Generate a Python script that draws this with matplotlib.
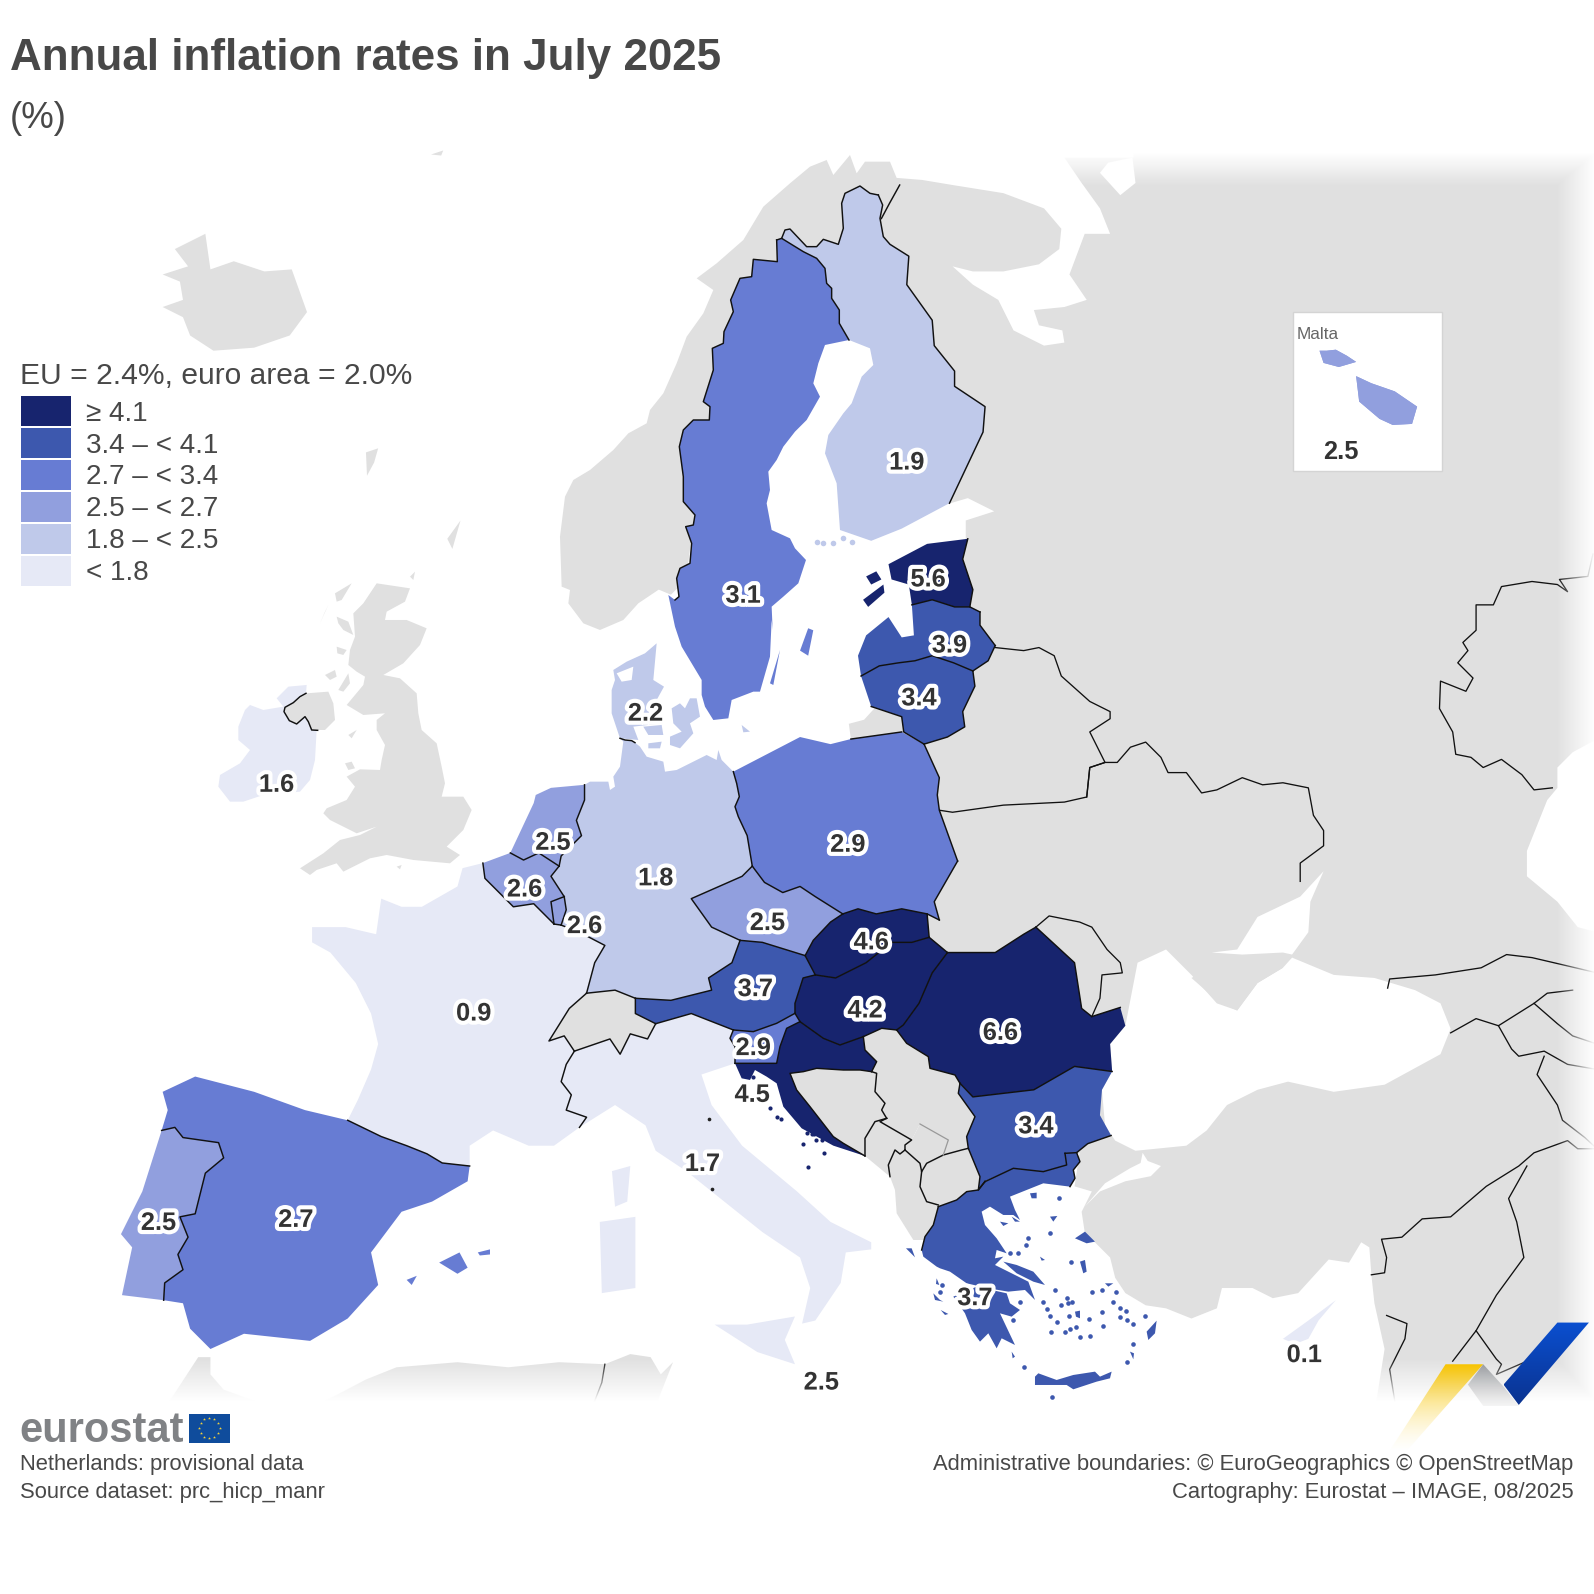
import numpy as np
import matplotlib
matplotlib.use("Agg")
import matplotlib.pyplot as plt
import matplotlib.patheffects as pe
from matplotlib.patches import Polygon, Rectangle

plt.rcParams["font.family"] = ["Liberation Sans", "DejaVu Sans"]

# values per country
countries = ["SE", "FI", "EE", "LV", "LT", "DK", "IE", "NL", "BE", "LU", "DE", "PL", "CZ", "SK", "AT",
             "HU", "RO", "SI", "HR", "FR", "IT", "BG", "EL", "ES", "PT", "CY", "MT"]
values = [3.1, 1.9, 5.6, 3.9, 3.4, 2.2, 1.6, 2.5, 2.6, 2.6, 1.8, 2.9, 2.5, 4.6, 3.7,
          4.2, 6.6, 2.9, 4.5, 0.9, 1.7, 3.4, 3.7, 2.7, 2.5, 0.1, 2.5]
label_x = [731, 892, 913, 934, 904, 635, 272, 544, 516, 575, 645, 834, 755, 857, 743,
           851, 984, 741, 740, 466, 691, 1019, 959, 291, 156, 1283, 808]
label_y = [584, 453, 568, 633, 685, 700, 770, 827, 873, 909, 862, 829, 906, 925, 971,
           992, 1014, 1029, 1075, 995, 1143, 1106, 1275, 1198, 1201, 1331, 1358]

breaks = [1.8, 2.5, 2.7, 3.4, 4.1]
class_colors = ["#e6e9f6", "#bfc9ea", "#919fde", "#677cd3", "#3d58ae", "#17246e"]
legend_labels = ["\u2265 4.1", "3.4 \u2013 < 4.1", "2.7 \u2013 < 3.4", "2.5 \u2013 < 2.7", "1.8 \u2013 < 2.5", "< 1.8"]

GREY = "#e0e0e0"
TEXT = "#484848"
TY = 2  # text sits a little lower than va=center gives


def crop(x0, y0):
    # outlines traced on 3x crops of the picture, back to picture units
    return lambda pts: [((x0 + x / 3) / 1.0166, (y0 + y / 3) / 1.0166) for x, y in pts]


z_gr = crop(900, 1150)
z_uk = crop(200, 570)
z_sc = crop(550, 130)
z_dk = crop(590, 620)
z_ba = crop(700, 1000)

# shared borders
se_no = z_sc([(680, 330), (682, 395), (610, 388), (605, 440), (570, 445), (542, 510), (550, 545), (522, 605), (520, 640),
              (487, 655), (490, 720), (460, 815), (480, 830), (478, 870), (430, 870), (400, 900), (388, 950), (400, 1040),
              (400, 1115), (435, 1155), (430, 1185), (407, 1190), (425, 1240), (420, 1300), (390, 1315), (380, 1345),
              (387, 1400), (375, 1410)])
se_fi = z_sc([(680, 330), (695, 325), (760, 365), (800, 385), (825, 415), (830, 460), (845, 475), (845, 505), (868, 540),
              (868, 580), (897, 630)])
fi_no = z_sc([(695, 325), (705, 300), (720, 297), (770, 350), (800, 350), (820, 328), (865, 343), (880, 295), (875, 220),
              (885, 190), (930, 168), (960, 190), (985, 195)])
no_ru = [(867, 215), (875, 200), (885, 182)]
fi_ru = z_sc([(985, 195), (998, 225), (990, 265), (1000, 320), (1020, 343)]) + [
    (894, 252), (892, 280), (917, 315), (919, 340), (939, 365), (939, 380), (969, 400), (967, 425), (934, 495)]
ee_lv = [(897, 595), (917, 590), (939, 597), (954, 597)]
ee_ru = [(952, 530), (947, 550), (957, 580), (954, 597), (964, 602)]
lv_ru = [(964, 602), (964, 615), (979, 635)]
lv_by = [(979, 635), (972, 650), (957, 660)]
lv_lt = [(847, 665), (865, 655), (884, 652), (900, 650), (917, 645), (938, 652), (957, 660)]
lt_by = [(957, 660), (959, 675), (947, 700), (949, 715), (932, 725), (909, 732)]
lt_ru = [(909, 732), (889, 720), (887, 705), (857, 695)]
pl_ru = [(887, 720), (837, 727)]
pl_lt = [(887, 720), (909, 732)]
pl_by = [(909, 732), (924, 765), (922, 782), (924, 797), (942, 847)]
pl_ua = [(942, 847), (919, 887), (924, 905)]
pl_sk = [(924, 905), (912, 899), (887, 894), (862, 899), (844, 894), (829, 899)]
pl_cz = [(829, 899), (802, 882), (787, 872), (770, 878), (752, 868), (740, 852)]
de_pl = z_dk([(430, 455), (440, 490), (448, 530), (435, 560), (445, 590)]) + [(735, 822), (740, 852)]
de_cz = [(740, 852), (730, 862), (680, 884), (700, 912), (728, 925)]
de_at = [(728, 925), (720, 947), (697, 962), (700, 974), (660, 984), (625, 982)]
de_ch = [(625, 982), (605, 974), (577, 977)]
de_fr = [(577, 977), (585, 947), (595, 930), (570, 917), (552, 910)]
de_lu = [(552, 910), (557, 895), (555, 882)]
de_be = [(555, 882), (542, 862), (550, 852)]
de_nl = [(550, 852), (552, 842), (572, 822), (567, 807), (575, 787), (575, 772)]
de_dk = z_dk([(90, 355), (105, 360), (125, 362), (135, 368)])
be_nl = [(550, 852), (530, 839), (515, 846), (502, 839)]
be_fr = [(475, 849), (477, 864), (495, 882), (505, 892), (525, 889), (545, 909)]
be_lu = [(555, 882), (542, 887), (545, 909)]
lu_fr = [(545, 909), (552, 910)]
fr_ch = [(577, 977), (560, 992), (540, 1024), (555, 1019), (565, 1034)]
fr_it = [(565, 1034), (557, 1047), (552, 1064), (562, 1077), (557, 1092), (577, 1099), (570, 1109)]
fr_es = [(342, 1102), (375, 1118), (400, 1127), (420, 1135), (435, 1144), (462, 1147)]
ch_it = [(565, 1034), (600, 1022), (610, 1037), (620, 1017), (637, 1022), (645, 1007)]
ch_at = [(625, 982), (625, 997), (645, 1007)]
at_si = z_ba([(100, 90), (160, 95), (230, 70), (285, 40)])
at_it = [(645, 1007), (680, 997), at_si[0]]
at_hu = [at_si[-1], (782, 987), (790, 962), (802, 959)]
at_sk = [(802, 959), (792, 940)]
at_cz = [(792, 940), (750, 927), (728, 925)]
cz_sk = [(829, 899), (817, 907), (800, 925), (792, 940)]
sk_hu = [(802, 959), (822, 962), (852, 947), (877, 927), (897, 927), (914, 922)]
sk_ua = [(914, 922), (912, 899)]
hu_ua = [(914, 922), (932, 937)]
hu_ro = [(932, 937), (917, 957), (904, 987)] + z_ba([(610, 75), (590, 90)])
hu_rs = z_ba([(590, 90), (545, 85), (490, 110)])
hu_hr = z_ba([(490, 110), (420, 135), (370, 115), (300, 65)])
hu_si = z_ba([(300, 65), (285, 40)])
si_it = z_ba([(100, 90), (90, 115), (105, 140), (105, 190)])
si_hr = z_ba([(105, 190), (230, 190), (240, 140), (260, 85), (300, 65)])
hr_rs = z_ba([(490, 110), (495, 150), (530, 185), (515, 215)])
hr_ba = z_ba([(515, 215), (480, 210), (430, 210), (350, 205), (310, 215), (270, 220), (290, 270), (330, 320), (400, 410),
              (430, 430), (495, 468)])
ba_rs = z_ba([(515, 215), (530, 220), (525, 275), (555, 310), (545, 330), (560, 355)])
ba_me = z_ba([(560, 355), (525, 365), (495, 415), (495, 468)])
me_rs = z_ba([(560, 355), (540, 365), (635, 420), (615, 435), (615, 450)])
me_al = z_ba([(570, 530), (565, 495), (585, 450), (600, 462), (615, 450)])
al_mk = z_ba([(615, 450), (660, 490), (665, 515), (660, 560), (680, 605), (715, 615)])
mk_rs = z_ba([(665, 515), (680, 490), (730, 465), (785, 450), (805, 445)])
ro_ua = [(932, 937), (959, 937), (979, 937), (1007, 919), (1019, 912)]
ro_md = [(1019, 912), (1057, 947), (1064, 992), (1074, 1000)]
ro_ua2 = [(1074, 1000), (1102, 991)]
ro_rs = z_ba([(780, 250), (765, 225), (690, 205), (685, 170), (620, 130), (590, 90)])
ro_bg = [(1094, 1054), (1057, 1049), (1017, 1072), (957, 1079), ro_rs[0]]
bg_rs = z_ba([(780, 250), (775, 280), (825, 350), (800, 410), (805, 445)])
bg_mk = z_ba([(805, 445), (840, 530), (835, 570)]) + [(969, 1162)]
bg_el = z_gr([(255, 95), (340, 55), (430, 65), (500, 45), (495, 10)])
bg_tr = z_gr([(495, 10), (530, 8)]) + [(1070, 1125), (1093, 1117)]
el_tr = z_gr([(530, 8), (540, 35), (520, 60), (525, 85), (510, 110)])
el_mk = z_gr([(255, 95), (235, 120), (200, 125), (170, 150), (115, 170)])
el_al = z_gr([(115, 170), (100, 225), (75, 260), (65, 300)])
es_pt = [(159, 1112), (172, 1109), (180, 1119), (215, 1124), (220, 1139), (202, 1154), (192, 1194), (177, 1197),
         (185, 1217), (175, 1234), (180, 1249), (162, 1262), (161, 1279)]
ie_uk = z_uk([(318, 370), (300, 380), (280, 398), (255, 412), (252, 425), (268, 452), (290, 462), (315, 440), (325, 455),
              (335, 480), (353, 481)])

# coasts
se_coast = z_sc([(355, 1395), (375, 1490)]) + z_dk([(275, 80), (335, 180), (335, 225), (345, 260), (370, 300), (415, 295),
                                                    (425, 240), (490, 215), (510, 215), (540, 110), (545, 0)]) + z_sc([
    (668, 1500), (665, 1430), (700, 1400), (745, 1360), (768, 1290), (735, 1255), (720, 1225), (665, 1200), (650, 1120),
    (660, 1080), (655, 1025), (680, 990), (700, 950), (735, 905), (770, 870), (810, 800), (790, 760), (805, 700), (825, 645)])
fi_coast = [(934, 495), (887, 520), (857, 532)] + z_sc([(870, 1200), (860, 1060), (825, 970), (835, 915), (880, 850), (905, 820),
                                                        (935, 740), (970, 705), (960, 655), (897, 630)])
ee_coast = [(897, 595), (894, 575), (877, 570), (874, 555), (912, 535), (952, 530)]
lv_coast = [(847, 665), (844, 645), (852, 625), (874, 607), (887, 627), (899, 625), (897, 595)]
lt_coast = [(857, 695), (847, 665)]
pl_coast = [(837, 727), (817, 732), (787, 725), de_pl[0]]
de_coast = [(575, 772)] + z_dk([(0, 485), (55, 485), (60, 510), (75, 500), (70, 470), (90, 440), (100, 365), (90, 355)]) + de_dk[1:] + z_dk([
    (150, 380), (170, 410), (220, 425), (225, 455), (260, 450), (310, 425), (350, 405), (380, 420), (385, 390), (395, 420), (430, 455)])
nl_coast = [(502, 839), (525, 790), (527, 782), (542, 775), (575, 772)]
be_coast = [(475, 849), (502, 839)]
fr_coast = [(570, 1109), (545, 1127), (520, 1127), (485, 1112), (462, 1127), (462, 1147)]
fr_atl = [(342, 1102), (352, 1082), (365, 1052), (372, 1027), (365, 997), (350, 967), (325, 937), (307, 927), (307, 912),
          (340, 912), (370, 919), (375, 884), (395, 892), (415, 892), (450, 872), (455, 854), (475, 849)]
es_north = [(159, 1112), (165, 1092), (160, 1074), (192, 1059), (250, 1074), (300, 1092), (342, 1102)]
es_med = [(462, 1147), (460, 1162), (425, 1182), (395, 1192), (365, 1232), (372, 1264), (342, 1297), (305, 1319),
          (240, 1312), (207, 1327), (187, 1307), (180, 1282), (161, 1279)]
pt_coast = [(161, 1279), (120, 1274), (130, 1227), (119, 1214), (140, 1172), (159, 1112)]
it_coast = [si_it[-1], (690, 1057), (700, 1087), (730, 1127), (784, 1172), (817, 1202), (857, 1222), (857, 1229),
            (832, 1232), (827, 1262), (802, 1299), (789, 1302), (797, 1267), (787, 1237), (750, 1212), (700, 1172),
            (675, 1152), (645, 1132), (635, 1107), (605, 1087), (570, 1109)]
ro_coast = [(1102, 991), (1107, 1009), (1092, 1027), (1094, 1054)]
bg_coast = [(1094, 1054), (1084, 1072), (1082, 1097), (1093, 1117)]
el_coast = z_gr([(510, 110), (430, 100), (380, 120), (330, 140), (345, 180), (360, 210), (340, 195), (310, 195), (270, 170),
                 (245, 185), (255, 225), (290, 265), (320, 310), (290, 300), (285, 325), (310, 320), (285, 345), (345, 375),
                 (385, 395), (405, 450), (375, 420), (325, 425), (265, 415), (200, 400), (150, 365), (120, 355), (110, 350),
                 (70, 320), (65, 300)])
hr_coast = z_ba([(495, 468), (400, 437), (305, 385), (250, 320), (230, 250), (200, 230), (165, 210), (150, 240), (125, 235), (105, 190)])

# inner anchors keep the east land under the countries painted over it
east_land = z_sc([(150, 1500), (100, 1480), (55, 1420), (60, 1380), (35, 1370), (30, 1220), (45, 1100), (70, 1050), (120, 1020),
                  (190, 960), (235, 910), (290, 880), (300, 840), (340, 790), (380, 700), (410, 620), (460, 550), (490, 480),
                  (440, 445), (500, 400), (580, 330), (640, 230), (720, 160), (780, 110), (830, 90), (850, 135), (900, 75),
                  (920, 130), (945, 95), (1020, 95)]) + [
    (882, 175), (907, 177), (937, 182), (987, 190), (1027, 205), (1044, 225), (1042, 245), (1022, 260),
    (987, 267), (957, 267), (937, 262), (957, 280), (982, 295), (997, 325), (1027, 340), (1047, 337),
    (1045, 325), (1022, 320), (1017, 305), (1047, 302), (1069, 295), (1052, 270), (1067, 230), (1092, 230),
    (1082, 205), (1064, 180), (1047, 155), (1115, 155), (1115, 150), (1568, 150), (1568, 1378), (1354, 1378),
    (1362, 1327), (1352, 1282), (1349, 1254), (1347, 1227), (1339, 1222), (1327, 1242), (1307, 1239),
    (1277, 1272), (1252, 1277), (1232, 1267), (1202, 1267), (1197, 1287), (1172, 1297), (1147, 1287),
    (1127, 1284), (1107, 1272), (1097, 1257), (1092, 1237), (1067, 1212), (1064, 1192), (1074, 1172),
    (1057, 1167), (1062, 1134), (1049, 1144), (1000, 1000), (910, 930), (915, 800), (912, 740), (887, 720),
    (837, 727), (835, 712), (850, 708), (860, 697), (887, 705), (920, 660), (945, 620), (935, 570), (950, 530),
    (950, 512), (978, 503), (952, 490), (935, 495), (880, 440), (860, 300), (790, 290), (720, 350), (690, 450),
    (675, 570), (660, 585), (648, 580)] + z_sc([(265, 1420), (220, 1470)])
white_bay = [(1082, 170), (1102, 192), (1117, 180), (1114, 155), (1090, 160)]
black_sea = [(1107, 1009), (1119, 947), (1147, 934), (1172, 959), (1197, 987), (1217, 994), (1237, 967), (1262, 952),
             (1271, 942), (1312, 959), (1352, 962), (1392, 974), (1417, 987), (1427, 1012), (1417, 1037), (1362, 1067),
             (1312, 1074), (1267, 1064), (1237, 1072), (1207, 1087), (1187, 1112), (1167, 1127), (1117, 1132),
             (1097, 1122), (1087, 1107), (1084, 1072), (1094, 1054), (1092, 1027)]
azov = [(1302, 857), (1279, 882), (1237, 902), (1217, 934), (1192, 937), (1222, 939), (1262, 937), (1271, 939),
        (1287, 917), (1289, 887)]
marmara = [(1124, 1134), (1129, 1142), (1142, 1147), (1132, 1157), (1107, 1162), (1082, 1172), (1067, 1187), (1087, 1164),
           (1112, 1149), (1122, 1144)]
caspian = [(1571, 727), (1547, 740), (1532, 755), (1532, 775), (1522, 787), (1502, 837), (1502, 862), (1532, 887),
           (1552, 912), (1571, 917)]
crimea = [(1172, 962), (1192, 952), (1217, 952), (1262, 942), (1262, 952), (1237, 967), (1217, 994), (1197, 984)]
iceland = [(172, 245), (202, 230), (207, 265), (230, 257), (260, 267), (287, 265), (302, 307), (285, 330), (250, 342),
           (210, 345), (187, 330), (180, 312), (160, 302), (180, 295), (177, 277), (160, 270), (185, 262)]
britain = z_uk([(530, 40), (630, 55), (615, 95), (560, 125), (555, 150), (620, 150), (680, 175), (660, 225), (610, 280), (550, 315),
                (600, 325), (650, 370), (655, 430), (665, 480), (710, 520), (725, 590), (735, 640), (725, 680), (790, 680),
                (815, 720), (790, 780), (740, 830), (780, 855), (750, 880), (640, 870), (560, 855), (510, 865), (430, 905),
                (410, 880), (350, 900), (330, 915), (300, 895), (370, 850), (420, 810), (480, 795), (530, 770), (470, 790),
                (390, 750), (370, 730), (380, 715), (440, 690), (465, 650), (440, 620), (480, 598), (540, 600), (545, 570),
                (555, 525), (530, 480), (530, 450), (555, 430), (490, 435), (440, 405), (490, 345), (495, 320), (470, 305),
                (445, 285), (450, 240), (465, 200), (460, 130), (490, 100)])
n_ireland = z_uk([(320, 370), (385, 365), (400, 400), (405, 450), (375, 480), (335, 480), (315, 440), (290, 462), (265, 450),
                  (250, 415), (280, 398)])
ireland = z_uk([(135, 420), (150, 405), (190, 420), (250, 410), (230, 385), (265, 350), (320, 345), (318, 370), (280, 398), (250, 415),
                (265, 450), (290, 462), (315, 440), (335, 480), (350, 480), (345, 570), (330, 630), (300, 665), (190, 675),
                (130, 695), (90, 695), (55, 650), (60, 615), (120, 580), (150, 540), (115, 510), (115, 470)])
small_grey = z_uk([(410, 140), (445, 155), (460, 195), (430, 180), (415, 160)]), \
    z_uk([(410, 230), (440, 240), (430, 255), (412, 250)]), z_uk([(375, 315), (405, 300), (410, 320), (390, 330)]), \
    z_uk([(385, 105), (360, 160), (375, 125)]), z_uk([(405, 70), (455, 40), (425, 90), (410, 95)]), \
    z_uk([(415, 360), (445, 310), (450, 340), (430, 365)]), z_uk([(445, 495), (470, 480), (455, 505)]), \
    z_uk([(435, 580), (455, 575), (465, 595), (445, 600)]), z_uk([(630, 20), (645, 5), (640, 30)]), \
    z_uk([(590, 890), (605, 885), (600, 898)]), \
    [(360, 445), (372, 441), (368, 455), (361, 468)], [(440, 530), (453, 512), (445, 540)], [(424, 152), (436, 148), (434, 153)]
morocco = [(167, 1378), (195, 1335), (207, 1335), (207, 1352), (220, 1367), (250, 1378)]
algeria = [(320, 1378), (360, 1357), (390, 1345), (450, 1340), (500, 1345), (550, 1340), (595, 1342), (620, 1332),
           (640, 1335), (650, 1352), (662, 1340), (647, 1378)]
bosnia = hr_ba + ba_me[::-1][1:] + ba_rs[::-1][1:]
serbia = hu_rs[::-1] + ro_rs[::-1][1:] + bg_rs[1:] + z_ba([(785, 450), (730, 465), (745, 420), (660, 372), (635, 420), (540, 365)]) + \
    ba_rs[::-1] + hr_rs[::-1][1:]
montenegro = ba_me + z_ba([(570, 530)]) + me_al[1:] + me_rs[::-1][1:]
kosovo = z_ba([(635, 420), (660, 372), (745, 420), (730, 465), (680, 490), (665, 515), (660, 490), (615, 450), (615, 435)])
macedonia = mk_rs + bg_mk[1:] + el_mk[1:] + z_ba([(680, 605), (660, 560)])
albania = me_al + al_mk[1:] + z_ba([(700, 680), (680, 720), (640, 720), (590, 640), (585, 570)])
switzerland = fr_ch + ch_it[1:] + ch_at[::-1][1:] + de_ch[1:]

# islands
corsica = [(602, 1152), (620, 1147), (617, 1182), (605, 1187)]
sardinia = [(590, 1202), (625, 1197), (625, 1267), (592, 1272)]
sicily = [(703, 1303), (735, 1303), (782, 1295), (772, 1318), (782, 1342), (745, 1330)]
mallorca = [(432, 1242), (452, 1232), (460, 1247), (450, 1253)]
menorca = [(470, 1232), (482, 1229), (482, 1234), (472, 1235)]
ibiza = [(400, 1259), (410, 1255), (405, 1264)]
gotland = [(787, 640), (795, 618), (800, 620), (795, 645)]
oland = z_dk([(570, 90), (540, 190), (550, 195)])
bornholm = z_dk([(455, 315), (480, 335), (460, 337)])
saaremaa = [(849, 590), (869, 575), (870, 583), (854, 597)]
hiiumaa = [(852, 567), (862, 562), (867, 570), (857, 575)]
jutland = z_dk([(200, 70), (190, 180), (222, 200), (200, 240), (215, 310), (130, 320), (145, 360), (90, 355), (65, 280), (65, 210),
                (75, 180), (70, 150), (110, 125), (165, 100)])
limfjord = z_dk([(80, 160), (130, 140), (125, 180), (95, 185)])
fyn = z_dk([(160, 320), (215, 315), (220, 345), (175, 345)])
zealand = z_dk([(245, 265), (270, 250), (285, 265), (300, 235), (320, 235), (330, 290), (300, 310), (310, 340), (270, 385), (240, 375),
                (240, 350), (275, 335), (250, 310)])
lolland = z_dk([(175, 370), (215, 365), (210, 385), (175, 385)])
peloponnese = z_gr([(160, 440), (230, 410), (320, 430), (330, 460), (360, 480), (335, 500), (300, 490), (345, 585), (305, 565),
                    (290, 595), (265, 550), (240, 575), (215, 540), (195, 490)])
crete = z_gr([(405, 680), (415, 670), (470, 690), (520, 675), (585, 665), (600, 680), (635, 665), (630, 685), (590, 695), (520, 718),
              (500, 705), (405, 705)])
euboea = z_gr([(310, 335), (350, 345), (400, 365), (435, 405), (400, 395), (350, 370)])
el_islands = [z_gr(p) for p in [
    [(390, 130), (410, 128), (410, 145), (395, 145)], [(450, 200), (472, 198), (460, 215)],
    [(525, 265), (555, 245), (585, 275), (560, 280)], [(540, 335), (555, 330), (560, 365), (550, 370)],
    [(615, 400), (640, 400), (625, 410)], [(770, 512), (765, 550), (745, 570), (740, 545)],
    [(100, 430), (120, 450), (130, 455), (105, 450)], [(122, 480), (145, 492), (135, 495)],
    [(18, 295), (35, 295), (45, 322)], [(110, 385), (118, 405), (108, 402)], [(335, 605), (345, 620), (338, 625)],
    [(420, 320), (435, 330), (425, 332)], [(300, 215), (325, 220), (310, 228)], [(335, 200), (360, 215), (345, 215)],
    [(525, 485), (540, 482), (540, 505), (528, 500)], [(690, 605), (702, 610), (700, 628)],
]]
aegean = z_gr([(385, 265), (378, 285), (355, 310), (330, 310), (450, 250), (512, 337), (465, 420), (500, 445), (428, 455), (440, 478),
               (482, 465), (505, 460), (515, 455), (450, 497), (470, 515), (508, 497), (568, 507), (528, 530), (510, 538),
               (495, 547), (452, 547), (540, 562), (570, 558), (610, 527), (605, 487), (640, 457), (575, 427), (605, 420), (648, 425),
               (660, 475), (678, 483), (660, 500), (680, 510), (698, 522), (735, 497), (698, 583), (682, 636), (372, 650), (455, 740),
               (125, 405), (120, 425), (338, 510), (360, 455), (478, 145)])
dalmatia = z_ba([(320, 400), (342, 403), (365, 420), (348, 420), (310, 433), (372, 460), (325, 500), (210, 325), (230, 350),
                 (242, 358), (160, 230), (335, 403)])
aland = z_sc([(800, 1235), (820, 1240), (850, 1240), (880, 1225), (905, 1235)])
enclaves = z_ba([(27, 357), (35, 568)])
malta_gozo = [(1298, 345), (1305, 345), (1314, 344), (1325, 350), (1334, 356), (1317, 361), (1302, 357)]
malta_main = [(1334, 370), (1349, 377), (1372, 385), (1394, 400), (1389, 417), (1370, 418), (1357, 412), (1337, 395)]

# east of the map
east_borders = [
    [(979, 637), (1007, 640), (1022, 637), (1037, 645), (1044, 665), (1072, 690), (1092, 700), (1092, 707), (1072, 720),
     (1087, 750), (1072, 755), (1069, 784)],
    [(924, 797), (937, 799), (987, 792), (1047, 789), (1069, 784), (1072, 755), (1087, 750), (1099, 750), (1112, 735), (1127, 730),
     (1142, 745), (1149, 760), (1167, 760), (1182, 780), (1197, 777), (1222, 765), (1242, 772), (1262, 770), (1287, 775),
     (1292, 802), (1302, 817), (1302, 832), (1279, 849), (1279, 867)],
    [(1019, 912), (1032, 901), (1062, 907), (1074, 912), (1089, 934), (1102, 947), (1104, 957), (1084, 959), (1082, 982), (1074, 1000)],
    [(1567, 545), (1562, 567), (1534, 570), (1542, 582), (1532, 575), (1507, 572), (1477, 577), (1469, 595), (1452, 595),
     (1452, 620), (1439, 632), (1444, 640), (1434, 652), (1449, 667), (1442, 680), (1417, 670), (1416, 697), (1429, 720),
     (1432, 742), (1447, 745), (1459, 755), (1477, 747), (1497, 762), (1509, 777), (1527, 775)],
    [(1365, 972), (1367, 963), (1412, 959), (1457, 952), (1482, 939), (1507, 942), (1537, 949), (1571, 957)],
    [(1427, 1016), (1452, 1002), (1474, 1009), (1509, 987), (1522, 977), (1547, 974)],
    [(1474, 1009), (1487, 1032), (1494, 1039), (1519, 1034), (1542, 1047), (1571, 1052)],
    [(1509, 987), (1532, 1007), (1547, 1019), (1571, 1027)],
    [(1519, 1039), (1512, 1057), (1532, 1087), (1537, 1102), (1559, 1119), (1571, 1130)],
    [(1349, 1254), (1362, 1252), (1364, 1237), (1359, 1219), (1379, 1217), (1399, 1199), (1427, 1197), (1462, 1167),
     (1494, 1147), (1509, 1134), (1542, 1122), (1552, 1130), (1571, 1130)],
    [(1502, 1147), (1484, 1179), (1492, 1202), (1499, 1237), (1472, 1274), (1452, 1309), (1429, 1339)],
    [(1452, 1309), (1472, 1337), (1477, 1342), (1472, 1352), (1502, 1339)],
    [(1364, 1294), (1384, 1302), (1382, 1317), (1367, 1347), (1372, 1378)],
    [(595, 1342), (592, 1360), (585, 1378)],
]
cyprus = [(1262, 1317), (1287, 1299), (1314, 1279), (1297, 1299), (1287, 1317), (1274, 1322)]

fill = dict(zip(countries, np.array(class_colors)[np.digitize(values, breaks)]))

shapes = {
    "SE": [se_no + se_coast + se_fi[::-1], oland, gotland],
    "FI": [fi_no + fi_ru[1:] + fi_coast[1:] + se_fi[::-1][1:-1]],
    "EE": [ee_coast + ee_ru[:-1] + ee_lv[::-1], saaremaa, hiiumaa],
    "LV": [lv_coast + ee_lv + ee_ru[-2:] + lv_ru[1:] + lv_by[1:] + lv_lt[::-1][1:]],
    "LT": [lt_coast + lv_lt[1:] + lt_by[1:] + lt_ru[1:]],
    "DK": [jutland, zealand, fyn, lolland, bornholm],
    "IE": [ireland],
    "NL": [nl_coast + de_nl[::-1][1:] + be_nl[1:]],
    "BE": [be_coast + be_nl[::-1][1:] + de_be[::-1][1:] + be_lu[1:] + be_fr[::-1][1:]],
    "LU": [be_lu + lu_fr[1:] + de_lu[1:]],
    "DE": [de_coast + de_pl[1:] + de_cz[1:] + de_at[1:] + de_ch[1:] + de_fr[1:] + de_lu[1:] + de_be[1:] + de_nl[1:]],
    "PL": [pl_coast + de_pl[1:] + pl_cz[::-1][1:] + pl_sk[::-1][1:] + pl_ua[::-1][1:] + pl_by[::-1][1:] + pl_lt[::-1][1:]],
    "CZ": [de_cz + at_cz[::-1][1:] + cz_sk[::-1][1:] + pl_cz[1:]],
    "SK": [pl_sk + cz_sk[1:] + at_sk[::-1][1:] + sk_hu[1:] + sk_ua[1:]],
    "AT": [de_at[::-1] + at_cz[::-1][1:] + at_sk[::-1][1:] + at_hu[::-1][1:] + at_si[::-1][1:] + at_it[::-1][1:] + ch_at[::-1][1:]],
    "HU": [at_hu + sk_hu[1:] + hu_ua[1:] + hu_ro[1:] + hu_rs[1:] + hu_hr[1:] + hu_si[1:]],
    "RO": [ro_ua + ro_md[1:] + ro_ua2[1:] + ro_coast[1:] + ro_bg[1:] + ro_rs[1:] + hu_ro[::-1][1:]],
    "SI": [at_si + hu_si[::-1][1:] + si_hr[::-1][1:] + si_it[::-1][1:]],
    "HR": [si_hr + hu_hr[::-1][1:] + hr_rs[1:] + hr_ba[1:] + hr_coast[1:]],
    "FR": [fr_atl + be_fr + lu_fr[1:] + de_fr[::-1][1:] + fr_ch[1:] + fr_it[1:] + fr_coast[1:] + fr_es[::-1][1:], corsica],
    "IT": [fr_it + it_coast[::-1][1:] + si_it[::-1][1:] + at_it[::-1][1:] + ch_it[::-1][1:], sardinia, sicily],
    "BG": [ro_bg + bg_rs[1:] + bg_mk[1:] + bg_el[1:] + bg_tr[1:] + bg_coast[::-1][1:]],
    "EL": [bg_el + el_tr + el_coast[1:] + el_al[::-1][1:] + el_mk[::-1][1:], peloponnese, crete, euboea] + el_islands,
    "ES": [es_north + fr_es + es_med[1:] + es_pt[::-1][1:], mallorca, menorca, ibiza],
    "PT": [es_pt + pt_coast[1:]],
    "CY": [cyprus],
    "MT": [malta_gozo, malta_main],
}

black_lines = [se_no, se_fi, fi_no, no_ru, fi_ru, ee_lv, ee_ru, lv_ru, lv_by, lv_lt, lt_by, lt_ru, pl_ru, pl_by, pl_ua, pl_sk,
               pl_cz, de_pl, de_cz, de_at, de_ch, de_fr, de_lu, de_be, de_nl, de_dk, be_nl, be_fr, be_lu, lu_fr, fr_ch, fr_it,
               fr_es, ch_it, ch_at, at_it, at_si, at_hu, at_sk, at_cz, cz_sk, sk_hu, sk_ua, hu_ua, hu_ro, hu_rs, hu_hr, hu_si,
               si_it, si_hr, hr_rs, hr_ba, ba_rs, ba_me, me_rs, me_al, al_mk, mk_rs, ro_ua, ro_md, ro_ua2, ro_bg, ro_rs, bg_rs,
               bg_mk, bg_el, bg_tr, el_tr, el_mk, el_al, es_pt, ie_uk]

fig = plt.figure(figsize=(15.94, 15.94), dpi=100)
ax = fig.add_axes([0, 0, 1, 1])


def land(points, color=GREY, z=1.0):
    ax.add_patch(Polygon(points, closed=True, facecolor=color, edgecolor="none", zorder=z))


def line(points, color="#111111", lw=1.05, z=4.0):
    xs, ys = zip(*points)
    ax.plot(xs, ys, color=color, lw=lw, zorder=z, solid_joinstyle="round")


def dots(points, color, size, z=3.2):
    xs, ys = zip(*points)
    ax.scatter(xs, ys, s=size, color=color, linewidths=0, zorder=z)


for shape in [east_land, iceland, britain, n_ireland, morocco, algeria] + list(small_grey):
    land(shape)
for sea in [black_sea, azov, marmara, caspian, white_bay]:
    land(sea, "white", 1.2)
land(crimea, GREY, 1.3)
for border in east_borders:
    line(border, z=1.5, lw=0.95)

# white fades on the edges of the base map
gx, gy = np.meshgrid(np.arange(0, 1569, 2.0), np.arange(140, 1380, 2.0))
fade = np.clip((gx - 1532) / 38, 0, 1)
fade = np.maximum(fade, np.clip((gy - 1335) / 42, 0, 1))
fade = np.maximum(fade, np.where(gx > 1045, np.clip((182 - gy) / 32, 0, 1), 0))
fade_img = np.ones(gx.shape + (4,))
fade_img[..., 3] = fade
ax.imshow(fade_img, extent=[0, 1568, 1380, 140], aspect="auto", zorder=2, interpolation="bilinear")

for shape in [switzerland, bosnia, serbia, montenegro, kosovo, macedonia, albania]:
    land(shape, GREY, 3)
for code, parts in shapes.items():
    for part in parts:
        land(part, fill[code], 3.2)
land(limfjord, "white", 3.25)
dots(aegean, fill["EL"], 11)
dots(dalmatia, fill["HR"], 9)
dots(aland, fill["FI"], 16)
dots(enclaves, "#222222", 7, 3.3)
for border in black_lines:
    line(border)
line(z_ba([(660, 372), (745, 420), (730, 465)]), color="#999999", lw=0.9)

# Malta inset
ax.add_patch(Rectangle((1272, 307), 146, 156, facecolor="white", edgecolor="#d4d4d4", lw=1, zorder=3))
ax.text(1275, 327 + TY, "Malta", fontsize=12.3, color="#666666", va="center", ha="left", zorder=5)
for part in shapes["MT"]:
    land(part, fill["MT"], 4)
ax.text(1319, 443 + TY, "2.5", fontsize=18.3, fontweight="bold", color="#333333", ha="center", va="center", zorder=6)

halo = [pe.withStroke(linewidth=6, foreground="white")]
for value, x, y in zip(values, label_x, label_y):
    ax.text(x, y + TY, f"{value:.1f}", fontsize=18.3, fontweight="bold", color="#333333", ha="center", va="center",
            path_effects=halo, zorder=6)

# title and legend
ax.text(10, 56 + TY, "Annual inflation rates in July 2025", fontsize=31.65, fontweight="bold", color=TEXT, va="center", ha="left", zorder=7)
ax.text(10, 115 + TY, "(%)", fontsize=26.4, color=TEXT, va="center", ha="left", zorder=7)
ax.text(20, 368 + TY, "EU = 2.4%, euro area = 2.0%", fontsize=21.6, color=TEXT, va="center", ha="left", zorder=7)
for i, (color, label) in enumerate(zip(class_colors[::-1], legend_labels)):
    y = 390 + i * 31.35
    ax.add_patch(Rectangle((20.5, y), 49, 29.5, facecolor=color, edgecolor="none", zorder=7))
    ax.text(85, y + 15 + TY, label, fontsize=20.1, color=TEXT, va="center", ha="left", zorder=7)

# footer
ax.text(19, 1406 + TY, "eurostat", fontsize=30, fontweight="bold", color="#808285", va="center", ha="left", zorder=7)
ax.add_patch(Rectangle((186, 1391), 40, 28, facecolor="#0f4c9c", edgecolor="none", zorder=7))
star_angles = np.arange(12) * np.pi / 6
ax.scatter(206 + 10 * np.cos(star_angles), 1405 + 10 * np.sin(star_angles), s=5, color="#f5d33c", marker="*", linewidths=0, zorder=8)
ax.text(20, 1439 + TY, "Netherlands: provisional data", fontsize=15.8, color=TEXT, va="center", ha="left", zorder=7)
ax.text(20, 1466 + TY, "Source dataset: prc_hicp_manr", fontsize=15.8, color=TEXT, va="center", ha="left", zorder=7)
ax.text(1548, 1439 + TY, "Administrative boundaries: \u00a9 EuroGeographics \u00a9 OpenStreetMap", fontsize=15.8, color=TEXT, va="center", ha="right", zorder=7)
ax.text(1548, 1466 + TY, "Cartography: Eurostat \u2013 IMAGE, 08/2025", fontsize=15.8, color=TEXT, va="center", ha="right", zorder=7)


def ribbon(points, top_color, bottom_color, top_alpha, bottom_alpha):
    # vertical gradient clipped to a parallelogram
    xs, ys = zip(*points)
    ramp = np.linspace(0, 1, 128)[:, None]
    img = np.zeros((128, 1, 4))
    top = np.array(matplotlib.colors.to_rgb(top_color))
    bottom = np.array(matplotlib.colors.to_rgb(bottom_color))
    img[..., :3] = top[None, None, :] * (1 - ramp[..., None]) + bottom[None, None, :] * ramp[..., None]
    img[..., 3] = top_alpha + (bottom_alpha - top_alpha) * ramp
    im = ax.imshow(img, extent=[min(xs), max(xs), max(ys), min(ys)], aspect="auto", zorder=7)
    clip = Polygon(points, closed=True, transform=ax.transData, facecolor="none", edgecolor="none")
    ax.add_patch(clip)
    im.set_clip_path(clip)


ribbon([(1422, 1342), (1459, 1342), (1384, 1427), (1367, 1427)], "#f8c400", "#fdeeb0", 1, 0)
ribbon([(1459, 1342), (1479, 1364), (1494, 1383), (1459, 1383), (1444, 1362)], "#9a9ca0", "#eeeeee", 1, 0.6)
ribbon([(1532, 1301), (1563, 1301), (1494, 1382), (1479, 1362)], "#0b4fd0", "#0a3390", 1, 1)

ax.set_xlim(0, 1568)
ax.set_ylim(1568, 0)
ax.axis("off")
fig.savefig("out.png", dpi=100, facecolor="white")
